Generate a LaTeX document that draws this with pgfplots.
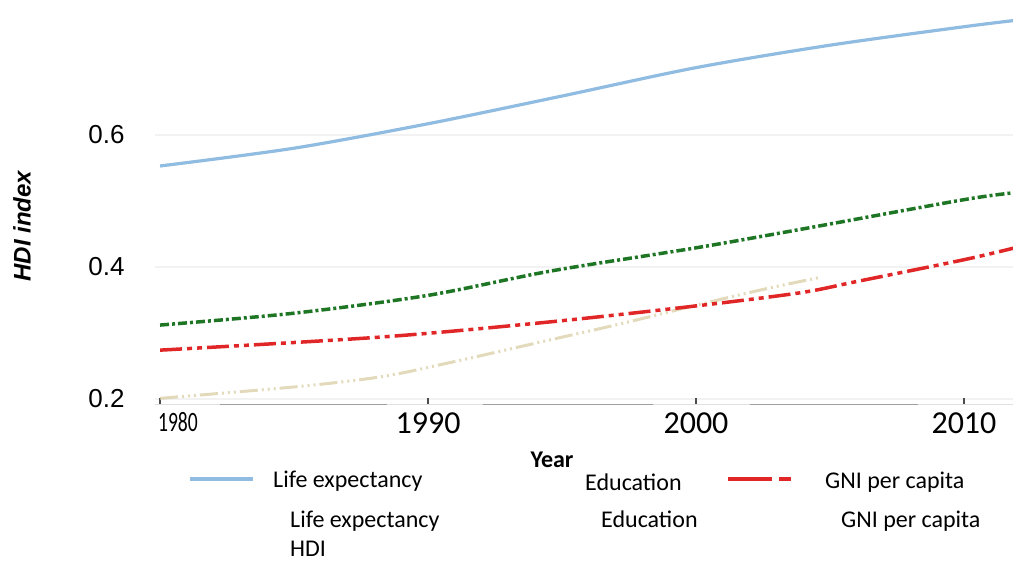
\documentclass[border=0pt]{standalone}
\usepackage{pgfplots}
\pgfplotsset{compat=1.18}
\usepackage{fontspec}
\setmainfont{Carlito}
\newfontfamily\arial{Liberation Sans}

\definecolor{lifeblue}{RGB}{145,188,226}
\definecolor{edugreen}{RGB}{30,118,36}
\definecolor{gnired}{RGB}{224,38,38}
\definecolor{hditan}{RGB}{216,206,164}

\begin{document}
\begin{tikzpicture}[x=1pt,y=1pt]
\useasboundingbox (0,0) rectangle (1013,561);
\begin{axis}[
    at={(155pt,156pt)}, anchor=south west,
    scale only axis, width=858pt, height=405pt,
    xmin=1979.81, xmax=2011.83, ymin=0.1909, ymax=0.8045,
    axis x line*=bottom, axis y line*=left,
    x axis line style={draw=none}, y axis line style={draw=none},
    xtick={1980,1990,2000,2010},
    xticklabels={\makebox[0pt][l]{\hspace{-2pt}\scalebox{0.7}[1]{\fontsize{28}{28}\selectfont 1980}},\mbox{1990},\mbox{2000},\mbox{2010}},
    xticklabel style={font=\fontsize{32}{32}\selectfont, yshift=-4pt},
    ytick={0.2,0.4,0.6},
    yticklabels={\mbox{0.2},\mbox{0.4},\mbox{0.6}},
    yticklabel style={font=\arial\fontsize{26}{26}\selectfont, xshift=-27pt},
    ytick style={draw=none},
    tick align=inside, major tick length=7pt,
    xtick style={draw=black!70, line width=2.5pt},
    ymajorgrids, grid style={gray!10, line width=1.5pt},
    /pgf/number format/assume math mode=true,
    clip=true,
]
% axis line (broken grey segments as in the source)
\draw[gray!25, line width=2.5pt] (axis cs:1979.81,0.1909) -- (axis cs:2011.83,0.1909);
\draw[gray!75, line width=2.5pt] (axis cs:1982.24,0.1909) -- (axis cs:1988.47,0.1909);
\draw[gray!75, line width=2.5pt] (axis cs:1992.05,0.1909) -- (axis cs:1998.40,0.1909);
\draw[gray!75, line width=2.5pt] (axis cs:2002.01,0.1909) -- (axis cs:2008.28,0.1909);

% HDI
\addplot[hditan, line width=3pt, opacity=0.75, smooth,
  dash pattern=on 18pt off 4pt on 2pt off 4pt on 2pt off 4pt on 2pt off 4pt]
  coordinates {(1980,0.201) (1985.2,0.219) (1988.3,0.234) (1990.8,0.255) (1994.6,0.290)
  (1997.2,0.314) (2000,0.342) (2002.5,0.366) (2004.6,0.384)};
% Life expectancy
\addplot[lifeblue, line width=3.2pt, smooth] coordinates {
  (1980,0.553) (1985,0.580) (1990,0.617) (1995,0.659) (2000,0.702)
  (2005,0.736) (2010,0.764) (2012,0.774)};
% Education
\addplot[edugreen, line width=3.5pt, smooth, dash pattern=on 9pt off 3pt on 3pt off 3pt] coordinates {
  (1980,0.312) (1985,0.330) (1990,0.357) (1994.6,0.394) (2000,0.429)
  (2003.9,0.457) (2010,0.502) (2012,0.513)};
% GNI per capita
\addplot[gnired, line width=3.5pt, smooth,
  dash pattern=on 22pt off 5pt on 5pt off 5pt on 5pt off 5pt] coordinates {
  (1980,0.274) (1988.3,0.294) (1994.6,0.317) (2000,0.341) (2003.9,0.361)
  (2006,0.378) (2010,0.411) (2012,0.430)};
\end{axis}

% axis titles
\node[rotate=90, font=\arial\bfseries\itshape\fontsize{24}{24}\selectfont] at (22,335) {HDI index};
\node[anchor=base, font=\bfseries\fontsize{24}{24}\selectfont] at (552,93) {Year};

% legend
\begin{scope}[font=\fontsize{24}{24}\selectfont]
\draw[lifeblue, line width=4pt] (190,82) -- (253,82);
\node[anchor=base west, inner sep=0pt] at (273,73) {Life expectancy};
\node[anchor=base west, inner sep=0pt] at (585,70) {Education};
\draw[gnired, line width=4pt, dash pattern=on 44pt off 7pt on 12pt] (728,82) -- (792,82);
\node[anchor=base west, inner sep=0pt] at (825,72) {GNI per capita};
\node[anchor=base west, inner sep=0pt] at (290,33) {Life expectancy};
\node[anchor=base west, inner sep=0pt] at (601,33) {Education};
\node[anchor=base west, inner sep=0pt] at (841,33) {GNI per capita};
\node[anchor=base west, inner sep=0pt] at (290,4) {HDI};
\end{scope}
\end{tikzpicture}
\end{document}
